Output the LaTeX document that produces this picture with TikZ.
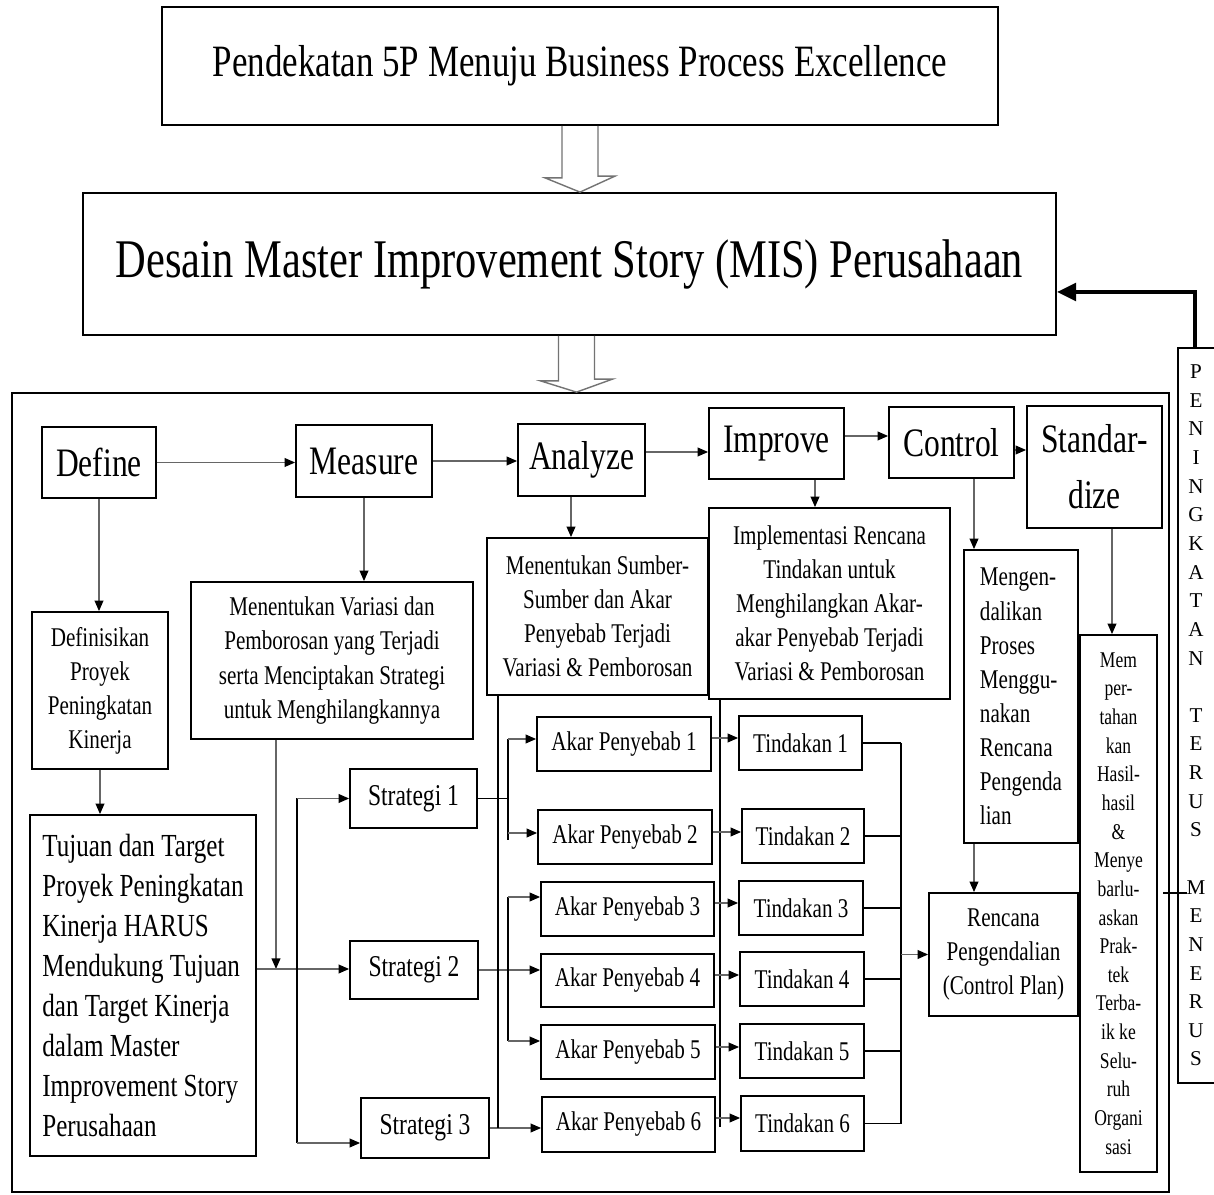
\documentclass[tikz,border=0pt]{standalone}
\usepackage{fontspec}
\setmainfont{Liberation Serif}
\newfontfamily\cond[FakeStretch=0.78]{Liberation Serif}
\usetikzlibrary{arrows.meta,calc}

\begin{document}
\begin{tikzpicture}[x=0.02cm,y=-0.02cm,
  box/.style={draw, line width=1pt, inner sep=0pt, align=center},
  sz/.style 2 args={minimum width=#1*0.02cm, minimum height=#2*0.02cm},
  fTitle/.style={font=\cond\fontsize{25.5}{30}\selectfont},
  fMis/.style={font=\cond\fontsize{31}{36}\selectfont},
  fStep/.style={font=\cond\fontsize{23}{32}\selectfont},
  fDesc/.style={font=\cond\fontsize{15.4}{19.4}\selectfont},
  fTuj/.style={font=\cond\fontsize{18.3}{22.8}\selectfont},
  fStr/.style={font=\cond\fontsize{17.2}{20}\selectfont},
  fSmall/.style={font=\cond\fontsize{12.8}{16.3}\selectfont},
  fVert/.style={font=\fontsize{12}{16.3}\selectfont},
  conn/.style={draw=black!60, line width=0.8pt, -{Triangle[length=6pt,width=5pt,color=black]}},
  bus/.style={draw=black, line width=1.1pt},
  hollow/.style={draw=black!55, line width=0.8pt, line join=miter},
  fb/.style={draw=black, line width=2.4pt, -{Triangle[length=11pt,width=10pt]}}
]
\fill[white] (0,0) rectangle (1214,1195);
\useasboundingbox (0,0) rectangle (1214,1195);

% headline boxes
\node[box,fTitle,sz={836}{118}] (top) at (580,66) {Pendekatan 5P Menuju Business Process Excellence};
\node[box,fMis,sz={973}{142}] (mis) at (569.5,264) {Desain Master Improvement Story (MIS) Perusahaan};

% outer frame and the side bar
\node[box,sz={1157}{799}] (frame) at (590.5,792.5) {};
\node[inner sep=0pt,sz={36}{735},fVert,align=center] (pen) at (1196,715.5)
  {P\\E\\N\\I\\N\\G\\K\\A\\T\\A\\N\\\mbox{}\\T\\E\\R\\U\\S\\\mbox{}\\M\\E\\N\\E\\R\\U\\S};

% DMAIC + standardize steps
\node[box,fStep,sz={114}{71}] (define) at (99,462.5) {Define};
\node[box,fStep,sz={136}{72}] (measure) at (364,461) {Measure};
\node[box,fStep,sz={127}{72}] (analyze) at (581.5,460) {Analyze};
\node[box,fStep,sz={135}{71}] (improve) at (776.5,443.5) {Improve};
\node[box,fStep,sz={125}{71}] (control) at (951.5,442.5) {Control};
\node[box,fStep,sz={135}{122}] (std) at (1094.5,467) {Standar-\\dize};

% step descriptions
\node[box,fDesc,sz={136}{157}] (ddesc) at (100,690.5) {Definisikan\\Proyek\\Peningkatan\\Kinerja};
\node[box,fDesc,sz={282}{157}] (mdesc) at (332,660.5) {Menentukan Variasi dan\\Pemborosan yang Terjadi\\serta Menciptakan Strategi\\untuk Menghilangkannya};
\node[box,fDesc,sz={221}{157}] (adesc) at (597.5,616.5) {Menentukan Sumber-\\Sumber dan Akar\\Penyebab Terjadi\\Variasi \& Pemborosan};
\node[box,fDesc,sz={241}{191}] (idesc) at (829.5,603.5) {Implementasi Rencana\\Tindakan untuk\\Menghilangkan Akar-\\akar Penyebab Terjadi\\Variasi \& Pemborosan};
\node[box,fDesc,sz={114}{293},align=left] (cdesc) at (1021,696.5) {Mengen-\\dalikan\\Proses\\Menggu-\\nakan\\Rencana\\Pengenda\\lian};
\node[box,fSmall,sz={77}{537}] (memper) at (1118.5,903.5) {Mem\\per-\\tahan\\kan\\Hasil-\\hasil\\\&\\Menye\\barlu-\\askan\\Prak-\\tek\\Terba-\\ik ke\\Selu-\\ruh\\Organi\\sasi};
\node[box,fTuj,sz={226}{341},align=left] (tujuan) at (143,985.5) {Tujuan dan Target\\Proyek Peningkatan\\Kinerja HARUS\\Mendukung Tujuan\\dan Target Kinerja\\dalam Master\\Improvement Story\\Perusahaan};

% strategies, root causes, actions
\node[box,fStr,sz={127}{59}] (str1) at (413.5,798.5) {Strategi 1};
\node[box,fStr,sz={128}{58}] (str2) at (414,970) {Strategi 2};
\node[box,fStr,sz={128}{60}] (str3) at (425,1128) {Strategi 3};

\node[box,fDesc,sz={174}{54}] (akar1) at (624,744) {Akar Penyebab 1};
\node[box,fDesc,sz={174}{54}] (akar2) at (625,837) {Akar Penyebab 2};
\node[box,fDesc,sz={173}{54}] (akar3) at (627.5,909) {Akar Penyebab 3};
\node[box,fDesc,sz={173}{53}] (akar4) at (627.5,980.5) {Akar Penyebab 4};
\node[box,fDesc,sz={174}{54}] (akar5) at (628,1052) {Akar Penyebab 5};
\node[box,fDesc,sz={173}{55}] (akar6) at (628.5,1124.5) {Akar Penyebab 6};

\node[box,fDesc,sz={123}{54}] (tind1) at (800.5,743) {Tindakan 1};
\node[box,fDesc,sz={122}{54}] (tind2) at (803,836) {Tindakan 2};
\node[box,fDesc,sz={124}{54}] (tind3) at (801,908) {Tindakan 3};
\node[box,fDesc,sz={124}{54}] (tind4) at (802,979) {Tindakan 4};
\node[box,fDesc,sz={124}{54}] (tind5) at (802,1051) {Tindakan 5};
\node[box,fDesc,sz={123}{55}] (tind6) at (802.5,1123.5) {Tindakan 6};

\node[box,fDesc,sz={149}{123}] (rencana) at (1003.5,954.5) {Rencana\\Pengendalian\\(Control Plan)};

% routing helpers
\coordinate (rowAI) at (0,452);
\coordinate (rowIC) at (0,436);
\coordinate (rowCS) at (0,450);
\coordinate (colA) at (571,0);
\coordinate (colI) at (815,0);
\coordinate (colC) at (974,0);
\coordinate (colS) at (1112,0);
\coordinate (colM) at (276,0);
\coordinate (rowS2) at (0,969);
\coordinate (colT) at (297,0);
\coordinate (rowS3) at (0,1143);
\coordinate (colR) at (508,0);
\coordinate (rowA1) at (0,739);
\coordinate (rowA2) at (0,833);
\coordinate (rowA2e) at (0,840);
\coordinate (rowA3) at (0,897);
\coordinate (rowA5) at (0,1041);
\coordinate (colL) at (498,0);
\coordinate (colP) at (720,0);
\coordinate (rowEnd) at (0,1127);
\coordinate (rT1) at (0,738);
\coordinate (rT2) at (0,832);
\coordinate (rT3) at (0,903);
\coordinate (rT4) at (0,975);
\coordinate (rT5) at (0,1047);
\coordinate (rT6) at (0,1118);
\coordinate (colB) at (901,0);
\coordinate (fbturn) at (1195,292);
\coordinate (tickA) at (1163,893);
\coordinate (tickB) at (1187,893);

% block arrows between the headline boxes
\draw[hollow] ($(top.south)+(-18,0)$) -- ++(0,52) -- ++(-17,0) -- (top.south |- mis.north)
  -- ++(35,-16) -- ++(-17,0) -- ($(top.south)+(18,0)$);
\coordinate (h2) at ($(mis.south)+(7,0)$);
\draw[hollow] ($(h2)+(-18,0)$) -- ++(0,45) -- ++(-18,0) -- (h2 |- frame.north)
  -- ++(36,-13) -- ++(-18,0) -- ($(h2)+(18,0)$);

% step flow
\draw[conn] (define.east) -- (define.east -| measure.west);
\draw[conn] (measure.east) -- (measure.east -| analyze.west);
\draw[conn] (analyze.east |- rowAI) -- (improve.west |- rowAI);
\draw[conn] (improve.east |- rowIC) -- (control.west |- rowIC);
\draw[conn] (control.east |- rowCS) -- (std.west |- rowCS);

% steps to descriptions
\draw[conn] (define.south) -- (define.south |- ddesc.north);
\draw[conn] (measure.south) -- (measure.south |- mdesc.north);
\draw[conn] (analyze.south -| colA) -- (adesc.north -| colA);
\draw[conn] (improve.south -| colI) -- (idesc.north -| colI);
\draw[conn] (control.south -| colC) -- (cdesc.north -| colC);
\draw[conn] (std.south -| colS) -- (memper.north -| colS);
\draw[conn] (ddesc.south) -- (ddesc.south |- tujuan.north);

% goals and measure into the strategies
\draw[conn] (mdesc.south -| colM) -- (colM |- rowS2);
\draw[conn] (tujuan.east |- rowS2) -- (str2.west |- rowS2);
\draw[bus] (colT |- str1) -- (colT |- rowS3);
\draw[conn] (colT |- str1) -- (str1.west);
\draw[conn] (colT |- rowS3) -- (str3.west |- rowS3);

% strategies to root causes
\draw[bus] (str1.east) -- (colR |- str1);
\draw[bus] (colR |- rowA1) -- (colR |- rowA2e);
\draw[conn] (colR |- rowA1) -- (akar1.west |- rowA1);
\draw[conn] (colR |- rowA2) -- (akar2.west |- rowA2);
\draw[conn] (str2.east) -- (str2.east -| akar4.west);
\draw[bus] (colR |- rowA3) -- (colR |- rowA5);
\draw[conn] (colR |- rowA3) -- (akar3.west |- rowA3);
\draw[conn] (colR |- rowA5) -- (akar5.west |- rowA5);
\draw[conn] (str3.east) -- (str3.east -| akar6.west);
\draw[bus] (adesc.south -| colL) -- (colL |- str3);
\draw[bus] (idesc.south -| colP) -- (colP |- rowEnd);

% root causes to actions
\foreach \i in {1,...,6}{
  \draw[conn] (akar\i.east |- rT\i) -- (tind\i.west |- rT\i);
  \draw[bus] (tind\i.east) -- (tind\i.east -| colB);
}
\draw[bus] (colB |- tind1) -- (colB |- tind6);
\draw[conn] (colB |- rencana) -- (rencana.west);
\draw[conn] (cdesc.south -| colC) -- (rencana.north -| colC);

% side bar and feedback loop
\draw[line width=1pt] (pen.north east) -- (pen.north west) -- (pen.south west) -- (pen.south east);
\draw[bus] (tickA) -- (tickB);
\draw[fb] (pen.north -| fbturn) -- (fbturn) -- (fbturn -| mis.east);
\end{tikzpicture}
\end{document}
